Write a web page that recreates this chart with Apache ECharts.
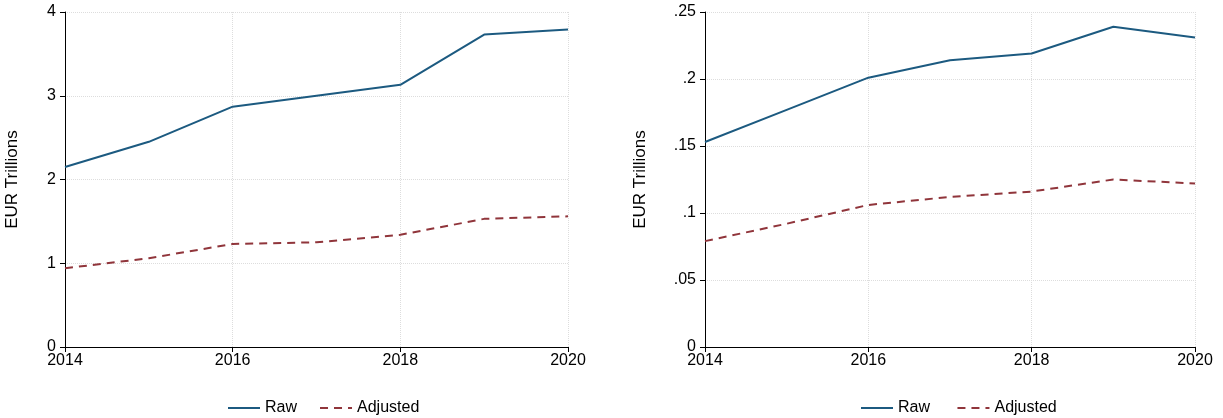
<!DOCTYPE html>
<html><head><meta charset="utf-8">
<script src="https://cdn.jsdelivr.net/npm/echarts@6/dist/echarts.min.js"></script>
<style>body{margin:0;background:#fff}#c{width:1223px;height:418px}</style>
</head><body><div id="c"></div>
<script>
var years = ['2014','2015','2016','2017','2018','2019','2020'];
var leftRaw = [2.15, 2.45, 2.87, 3.0, 3.13, 3.73, 3.79];
var leftAdj = [0.94, 1.06, 1.23, 1.25, 1.34, 1.53, 1.56];
var rightRaw = [0.153, 0.177, 0.201, 0.214, 0.219, 0.239, 0.231];
var rightAdj = [0.079, 0.092, 0.106, 0.112, 0.116, 0.125, 0.122];

var RAW = '#1c5a80', ADJ = '#90353b';
var font = 'Liberation Sans, Arial, sans-serif';
function fmtRight(v){ if(v===0) return '0'; return String(+v.toFixed(2)).replace(/^0/, ''); }

function xAxis(i){
  return {gridIndex:i, type:'category', data:years, boundaryGap:false,
    axisLine:{lineStyle:{color:'#000'}}, axisTick:{length:5,lineStyle:{color:'#000'}},
    axisLabel:{color:'#000', fontSize:16, fontFamily:font, interval:1, margin:6},
    splitLine:{show:true, lineStyle:{color:'#ddd', type:'dotted'}}};
}
function yAxis(i, max, step, fmt){
  return {gridIndex:i, type:'value', min:0, max:max, interval:step,
    name:'EUR Trillions', nameLocation:'middle', nameGap:i===0?44:56,
    nameTextStyle:{color:'#000', fontSize:17, fontFamily:font},
    axisLine:{show:true, lineStyle:{color:'#000'}}, axisTick:{show:true,length:5,lineStyle:{color:'#000'}},
    axisLabel:{color:'#000', fontSize:16, fontFamily:font, formatter:fmt, margin:9},
    splitLine:{show:true, lineStyle:{color:'#ddd', type:'dotted'}}};
}
function line(name, i, data, color, dash){
  return {name:name, type:'line', xAxisIndex:i, yAxisIndex:i, data:data, symbol:'none',
    lineStyle:{color:color, width:2, type:dash?[8,6]:'solid'}, itemStyle:{color:color}};
}
var legendBase = {itemWidth:32, itemHeight:14, itemGap:22, top:395, itemStyle:{opacity:0},
  textStyle:{color:'#000', fontSize:16, fontFamily:font}};

var chart = echarts.init(document.getElementById('c'));
chart.setOption({
  animation:false,
  grid:[{left:65, top:12, width:503, height:335}, {left:705, top:12, width:490, height:335}],
  xAxis:[xAxis(0), xAxis(1)],
  yAxis:[yAxis(0, 4, 1), yAxis(1, 0.25, 0.05, fmtRight)],
  legend:[
    Object.assign({}, legendBase, {left:222, data:['Raw','Adjusted']}),
    Object.assign({}, legendBase, {left:855, data:['Raw ','Adjusted ']})
  ],
  series:[
    line('Raw', 0, leftRaw, RAW, false),
    line('Adjusted', 0, leftAdj, ADJ, true),
    line('Raw ', 1, rightRaw, RAW, false),
    line('Adjusted ', 1, rightAdj, ADJ, true)
  ]
});
</script></body></html>
